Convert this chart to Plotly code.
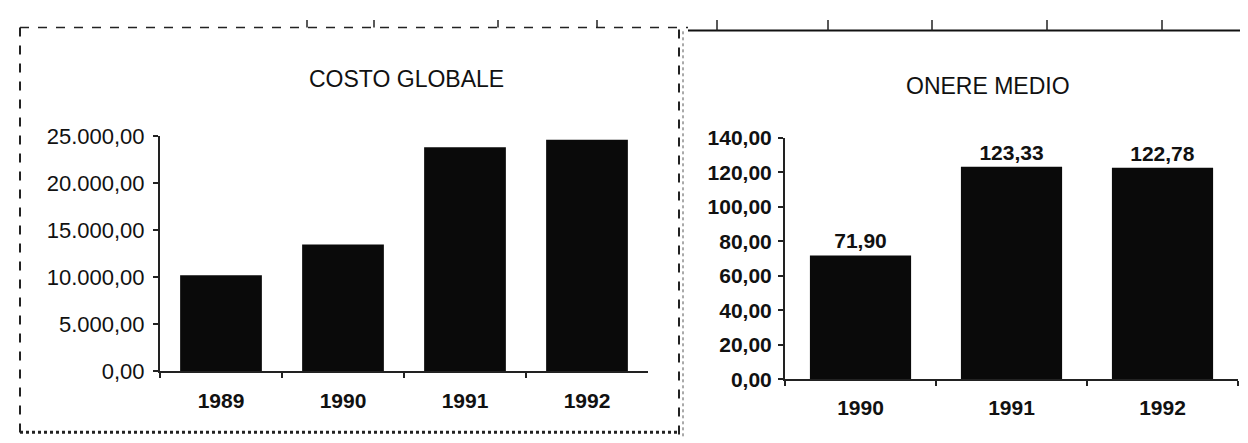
import plotly.graph_objects as go

# ---- data ----
years_costo = ["1989", "1990", "1991", "1992"]
costo_globale = [10200, 13450, 23800, 24600]

years_onere = ["1990", "1991", "1992"]
onere_medio = [71.90, 123.33, 122.78]

title_left = "COSTO GLOBALE"
title_right = "ONERE MEDIO"

W, H = 1248, 443


def px(x):
    return x / W


def py(y):
    return 1 - y / H


FONT = "Liberation Sans, Arial, sans-serif"
BOLD = "Liberation Sans, Arial, sans-serif"

fig = go.Figure()

fig.add_trace(go.Bar(
    x=years_costo, y=costo_globale, xaxis="x", yaxis="y",
    marker=dict(color="#0a0a0a", line=dict(width=0)),
    hoverinfo="skip", showlegend=False,
))

fig.add_trace(go.Bar(
    x=years_onere, y=onere_medio, xaxis="x2", yaxis="y2",
    marker=dict(color="#0a0a0a", line=dict(width=0)),
    texttemplate="<b>%{y:.2f}</b>", textposition="outside",
    textfont=dict(family=FONT, size=21, color="#111"),
    cliponaxis=False,
    hoverinfo="skip", showlegend=False,
))

axis_common = dict(
    showgrid=False, zeroline=False, showline=True, linecolor="#222",
    linewidth=2, ticks="outside", ticklen=5, tickcolor="#222", tickwidth=2,
    fixedrange=True,
)
reg_font = dict(family=FONT, size=22, color="#111")
year_font = dict(family=FONT, size=21, color="#111", weight="bold")

fig.update_layout(
    width=W, height=H,
    margin=dict(l=0, r=0, t=0, b=0),
    paper_bgcolor="white", plot_bgcolor="white",
    separators=",.",
    bargap=0.33,
    xaxis=dict(domain=[px(152), px(640)], anchor="y", tickfont=year_font,
               tickson="boundaries", ticklabelstandoff=10, **axis_common),
    yaxis=dict(domain=[py(372), py(123)], anchor="x", range=[0, 25000],
               dtick=5000, tickformat=",.2f", ticklabelstandoff=4,
               tickfont=reg_font, **axis_common),
    xaxis2=dict(domain=[px(777), px(1230)], anchor="y2", tickfont=year_font,
                tickson="boundaries", ticklabelstandoff=8, **axis_common),
    yaxis2=dict(domain=[py(381), py(125)], anchor="x2", range=[0, 140],
                dtick=20, tickformat=".2f", ticklabelstandoff=2,
                tickfont=dict(family=FONT, size=21, color="#111", weight="bold"),
                **axis_common),
    annotations=[
        dict(text=title_left, x=px(398), y=py(62), xref="paper", yref="paper",
             showarrow=False, xanchor="center", yanchor="middle",
             font=dict(family=FONT, size=23, color="#111")),
        dict(text=title_right, x=px(980), y=py(70), xref="paper", yref="paper",
             showarrow=False, xanchor="center", yanchor="middle",
             font=dict(family=FONT, size=23, color="#111")),
    ],
)

shapes = []
line_dash = dict(color="#222", width=2, dash="dash")
# left border
shapes.append(dict(type="line", xref="paper", yref="paper",
                   x0=px(12), x1=px(12), y0=py(8), y1=py(438), line=line_dash))
# bottom border of left panel
shapes.append(dict(type="line", xref="paper", yref="paper",
                   x0=px(12), x1=px(672), y0=py(437), y1=py(437),
                   line=dict(color="#222", width=3, dash="dot")))
# divider
shapes.append(dict(type="line", xref="paper", yref="paper",
                   x0=px(671), x1=px(671), y0=py(10), y1=py(443),
                   line=dict(color="#222", width=2, dash="dash")))
shapes.append(dict(type="line", xref="paper", yref="paper",
                   x0=px(675), x1=px(675), y0=py(12), y1=py(443),
                   line=dict(color="#555", width=1, dash="dot")))
# top rule
shapes.append(dict(type="line", xref="paper", yref="paper",
                   x0=px(12), x1=px(680), y0=py(8), y1=py(8),
                   line=dict(color="#222", width=1.5, dash="dash")))
shapes.append(dict(type="line", xref="paper", yref="paper",
                   x0=px(680), x1=px(1248), y0=py(11), y1=py(11),
                   line=dict(color="#111", width=2)))
for tx in [299, 366, 490, 589, 709, 820, 924, 1039, 1154]:
    yb = 8 if tx < 680 else 11
    shapes.append(dict(type="line", xref="paper", yref="paper",
                       x0=px(tx), x1=px(tx), y0=py(0), y1=py(yb),
                       line=dict(color="#222", width=1.5)))
fig.update_layout(shapes=shapes)

fig.write_html("out.html")
